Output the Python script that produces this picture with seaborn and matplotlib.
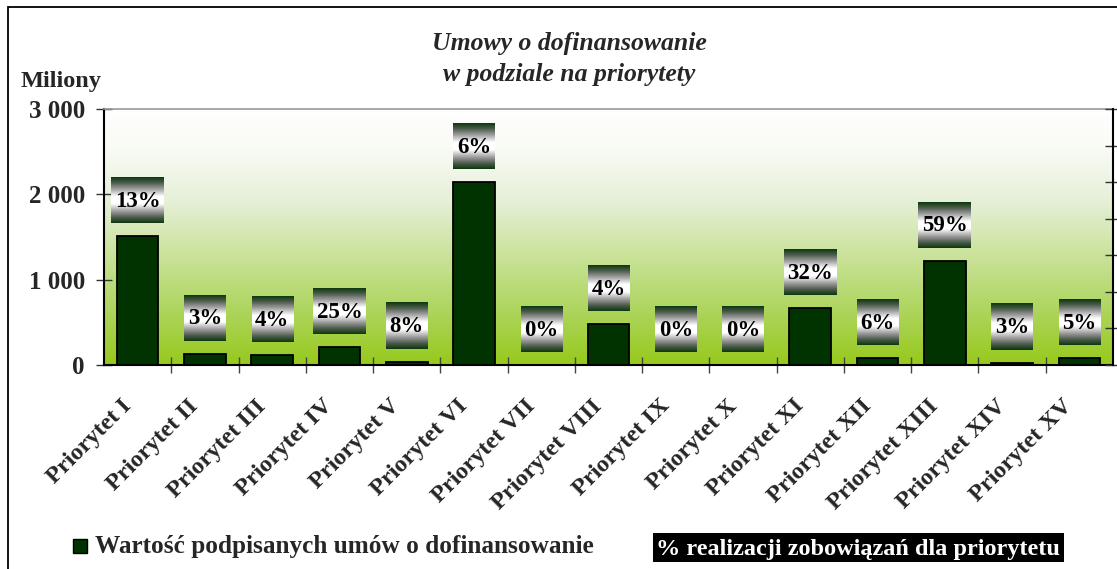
import numpy as np
import pandas as pd
import matplotlib
matplotlib.use("Agg")
import matplotlib.pyplot as plt
import matplotlib.transforms as mtrans
import seaborn as sns
from matplotlib.colors import LinearSegmentedColormap
from matplotlib.patches import Rectangle

# ---------------- data ----------------
categories = ["Priorytet I", "Priorytet II", "Priorytet III", "Priorytet IV", "Priorytet V",
              "Priorytet VI", "Priorytet VII", "Priorytet VIII", "Priorytet IX", "Priorytet X",
              "Priorytet XI", "Priorytet XII", "Priorytet XIII", "Priorytet XIV", "Priorytet XV"]
values = [1510, 130, 117, 207, 40, 2140, 0, 480, 0, 0, 664, 78, 1219, 27, 78]
percent = [13, 3, 4, 25, 8, 6, 0, 4, 0, 0, 32, 6, 59, 3, 5]
y_ticks = [0, 1000, 2000, 3000]
y_tick_labels = ["0", "1 000", "2 000", "3 000"]
title_lines = ["Umowy o dofinansowanie", "w podziale na priorytety"]
y_unit = "Miliony"
legend_bar = "Wartość podpisanych umów o dofinansowanie"
legend_pct = "% realizacji zobowiązań dla priorytetu"

df = pd.DataFrame({"kategoria": categories, "wartosc": values, "procent": percent})

# ---------------- style ----------------
sns.set_theme(style="white")
plt.rcParams["font.family"] = ["Liberation Serif", "DejaVu Serif"]
plt.rcParams["font.weight"] = "bold"

W, H = 1117, 569
fig = plt.figure(figsize=(W / 100, H / 100), dpi=100)
fig.patch.set_facecolor("white")

def px(x, y):
    return x / W, 1 - y / H

L, R, T, B = 104, 1113, 109, 365
ax = fig.add_axes([L / W, 1 - B / H, (R - L) / W, (B - T) / H])
ax.set_facecolor("none")

BAR = "#003300"
sns.barplot(data=df, x="kategoria", y="wartosc", color=BAR, edgecolor="black",
            linewidth=1.3, width=0.62, saturation=1, ax=ax, zorder=3)

ax.set_xlim(-0.5, len(categories) - 0.5)
ax.set_ylim(0, 3000)

# background gradient
bg_cmap = LinearSegmentedColormap.from_list("bg", [
    (0.0, "#ffffff"), (0.15, "#f9fbf5"), (0.35, "#e7f0da"), (0.6, "#c6e192"),
    (0.8, "#acd45a"), (1.0, "#97c91c")])
grad = np.linspace(0, 1, 256).reshape(-1, 1)
ax.imshow(grad, cmap=bg_cmap, aspect="auto", extent=(-0.5, len(categories) - 0.5, 0, 3000),
          origin="upper", zorder=0, interpolation="bilinear")
ax.set_xlim(-0.5, len(categories) - 0.5)
ax.set_ylim(0, 3000)

# axes / ticks
ax.set_xlabel("")
ax.set_ylabel("")
ax.set_yticks(y_ticks)
ax.set_yticklabels(y_tick_labels, fontsize=18, fontweight="bold")
ax.tick_params(axis="y", direction="inout", length=11.5, width=1, color="#333333", pad=8, left=True)
ax.set_xticks(range(len(categories)))
ax.set_xticklabels(categories, rotation=45, ha="right", va="top", rotation_mode="anchor",
                   fontsize=17.5, fontweight="bold")
ax.tick_params(axis="x", which="major", length=0, pad=22)
ax.set_xticks(np.arange(0.5, len(categories) - 0.5, 1), minor=True)
ax.tick_params(axis="x", which="minor", direction="inout", length=11, width=1,
               color="#444444", bottom=True)
off = mtrans.ScaledTranslation(-17 / 100, 0, fig.dpi_scale_trans)
for lab in ax.get_xticklabels():
    lab.set_transform(lab.get_transform() + off)

for s in ["left", "bottom"]:
    ax.spines[s].set_color("black")
    ax.spines[s].set_linewidth(1.5)
ax.spines["top"].set_color("#999999")
ax.spines["top"].set_linewidth(1.2)
ax.spines["right"].set_visible(False)
ax.grid(False)

ax2 = ax.twinx()
ax2.set_ylim(0, 0.7)
ax2.set_yticks(np.arange(0, 0.71, 0.1))
ax2.set_yticklabels([])
ax2.tick_params(axis="y", direction="inout", length=11, width=1, color="#333333", right=True)
for s in ["left", "top", "bottom"]:
    ax2.spines[s].set_visible(False)
ax2.spines["right"].set_color("black")
ax2.spines["right"].set_linewidth(1.5)
ax2.grid(False)

# percentage labels with gradient boxes
box_cmap = LinearSegmentedColormap.from_list("box", [
    (0.0, "#0b380b"), (0.12, "#4a5a4a"), (0.25, "#9a9a9a"), (0.42, "#ffffff"),
    (0.58, "#ffffff"), (0.75, "#9a9a9a"), (0.88, "#4a5a4a"), (1.0, "#0b380b")])
texts = []
for i, (v, p) in enumerate(zip(df["wartosc"], df["procent"])):
    t = ax.annotate(f"{p}%", xy=(i, v), xytext=(0, (12 + 23) * 0.72), textcoords="offset points",
                    ha="center", va="center", fontsize=16.5, fontweight="bold", color="black",
                    zorder=6, annotation_clip=False)
    texts.append(t)

fig.canvas.draw()
inv = ax.transData.inverted()
for t in texts:
    bb = t.get_window_extent()
    cx, cy = (bb.x0 + bb.x1) / 2, (bb.y0 + bb.y1) / 2
    w = bb.width + 7
    h = 46
    (x0, y0) = inv.transform((cx - w / 2, cy - h / 2 + 1))
    (x1, y1) = inv.transform((cx + w / 2, cy + h / 2 + 1))
    ax.imshow(grad, cmap=box_cmap, aspect="auto", extent=(x0, x1, y0, y1), origin="upper",
              zorder=5, interpolation="bilinear")
ax.set_xlim(-0.5, len(categories) - 0.5)
ax.set_ylim(0, 3000)

# title & unit
fig.text(*px(569, 50), title_lines[0], ha="center", va="baseline", fontsize=18.5,
         fontweight="bold", style="italic")
fig.text(*px(569, 81), title_lines[1], ha="center", va="baseline", fontsize=18.5,
         fontweight="bold", style="italic")
fig.text(*px(21, 87), y_unit, ha="left", va="baseline", fontsize=17.5, fontweight="bold")

# legend
fig.add_artist(Rectangle(px(73, 553), 14 / W, 14 / H, transform=fig.transFigure,
                         facecolor=BAR, edgecolor="black", lw=1))
fig.text(*px(95, 553), legend_bar, ha="left", va="baseline", fontsize=18.2, fontweight="bold")
fig.add_artist(Rectangle(px(653, 562), (1064 - 653) / W, 29 / H, transform=fig.transFigure,
                         facecolor="black", edgecolor="none"))
fig.text(*px(858, 555), legend_pct, ha="center", va="baseline", fontsize=17.5,
         fontweight="bold", color="white")

# outer frame
fig.add_artist(Rectangle(px(8, H + 20), 1.2, (H + 13) / H, transform=fig.transFigure,
                         fill=False, edgecolor="black", lw=1.3))

fig.savefig("out.png", dpi=100, facecolor="white")
